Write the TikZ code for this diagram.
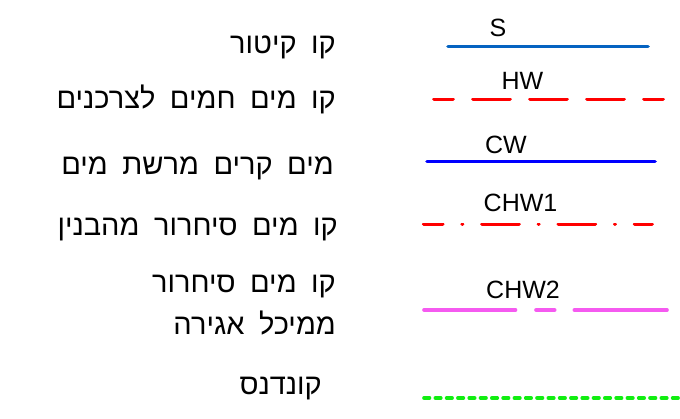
\documentclass[tikz,border=0pt]{standalone}
\usepackage{fontspec}
\usepackage{xcolor}
\usepackage{tikz}
\setmainfont{Liberation Sans}
\newfontfamily\hebfont[Script=Hebrew,WordSpace=1.8]{Liberation Sans}
\TeXXeTstate=1
\definecolor{SteamBlue}{HTML}{0563C1}
\definecolor{ColdBlue}{HTML}{0000FF}
\definecolor{HotRed}{HTML}{FF0000}
\definecolor{LoopPink}{HTML}{F55AF0}
\definecolor{CondGreen}{HTML}{11EE11}

\begin{document}
\begin{tikzpicture}[
    x=1pt, y=-1pt,
    heb/.style={anchor=base east, inner sep=0pt, align=right,
      font=\hebfont\fontsize{29}{42}\selectfont},
    tag/.style={anchor=base, inner sep=0pt, font=\fontsize{25}{30}\selectfont},
    pipe/.style={line width=3.6pt, line cap=round}
  ]
    \useasboundingbox (0,0) rectangle (680,418);

    % legend texts
    \node[heb] (steam) at (336,53) {\beginR קו קיטור\endR};
    \node[heb] (hot) at (336,108) {\beginR קו מים חמים לצרכנים\endR};
    \node[heb] (cold) at (334,174) {\beginR מים קרים מרשת מים\endR};
    \node[heb] (circa) at (338,235) {\beginR קו מים סיחרור מהבנין\endR};
    \node[heb] (circb) at (336,334) {\beginR קו מים סיחרור\endR\\\beginR ממיכל אגירה\endR};
    \node[heb] (cond) at (322,394) {\beginR קונדנס\endR};

    % line codes
    \node[tag] (s) at (498,36) {S};
    \node[tag] (hw) at (522.5,89) {HW};
    \node[tag] (cw) at (506,153) {CW};
    \node[tag] (chwa) at (520.5,211.7) {CHW1};
    \node[tag] (chwb) at (523,298) {CHW2};

    % line samples
    \draw[pipe, SteamBlue] (448,46.5) -- (648,46.5);
    \draw[pipe, HotRed, dash pattern=on 37pt off 20pt, dash phase=18pt] (434,99.3) -- (663,99.3);
    \draw[pipe, ColdBlue] (427,161.5) -- (655,161.5);
    \draw[pipe, HotRed, dash pattern=on 37pt off 19.5pt on 0.3pt off 19.5pt, dash phase=18pt] (423.7,224.3) -- (652,224.3);
    \draw[pipe, LoopPink, dash pattern=on 91.5pt off 20.5pt on 18.7pt off 19.6pt on 100pt off 10pt] (424,310) -- (667,310);
    \draw[pipe, CondGreen, dash pattern=on 5.5pt off 5.8pt] (424,398) -- (684,398);
\end{tikzpicture}
\end{document}
